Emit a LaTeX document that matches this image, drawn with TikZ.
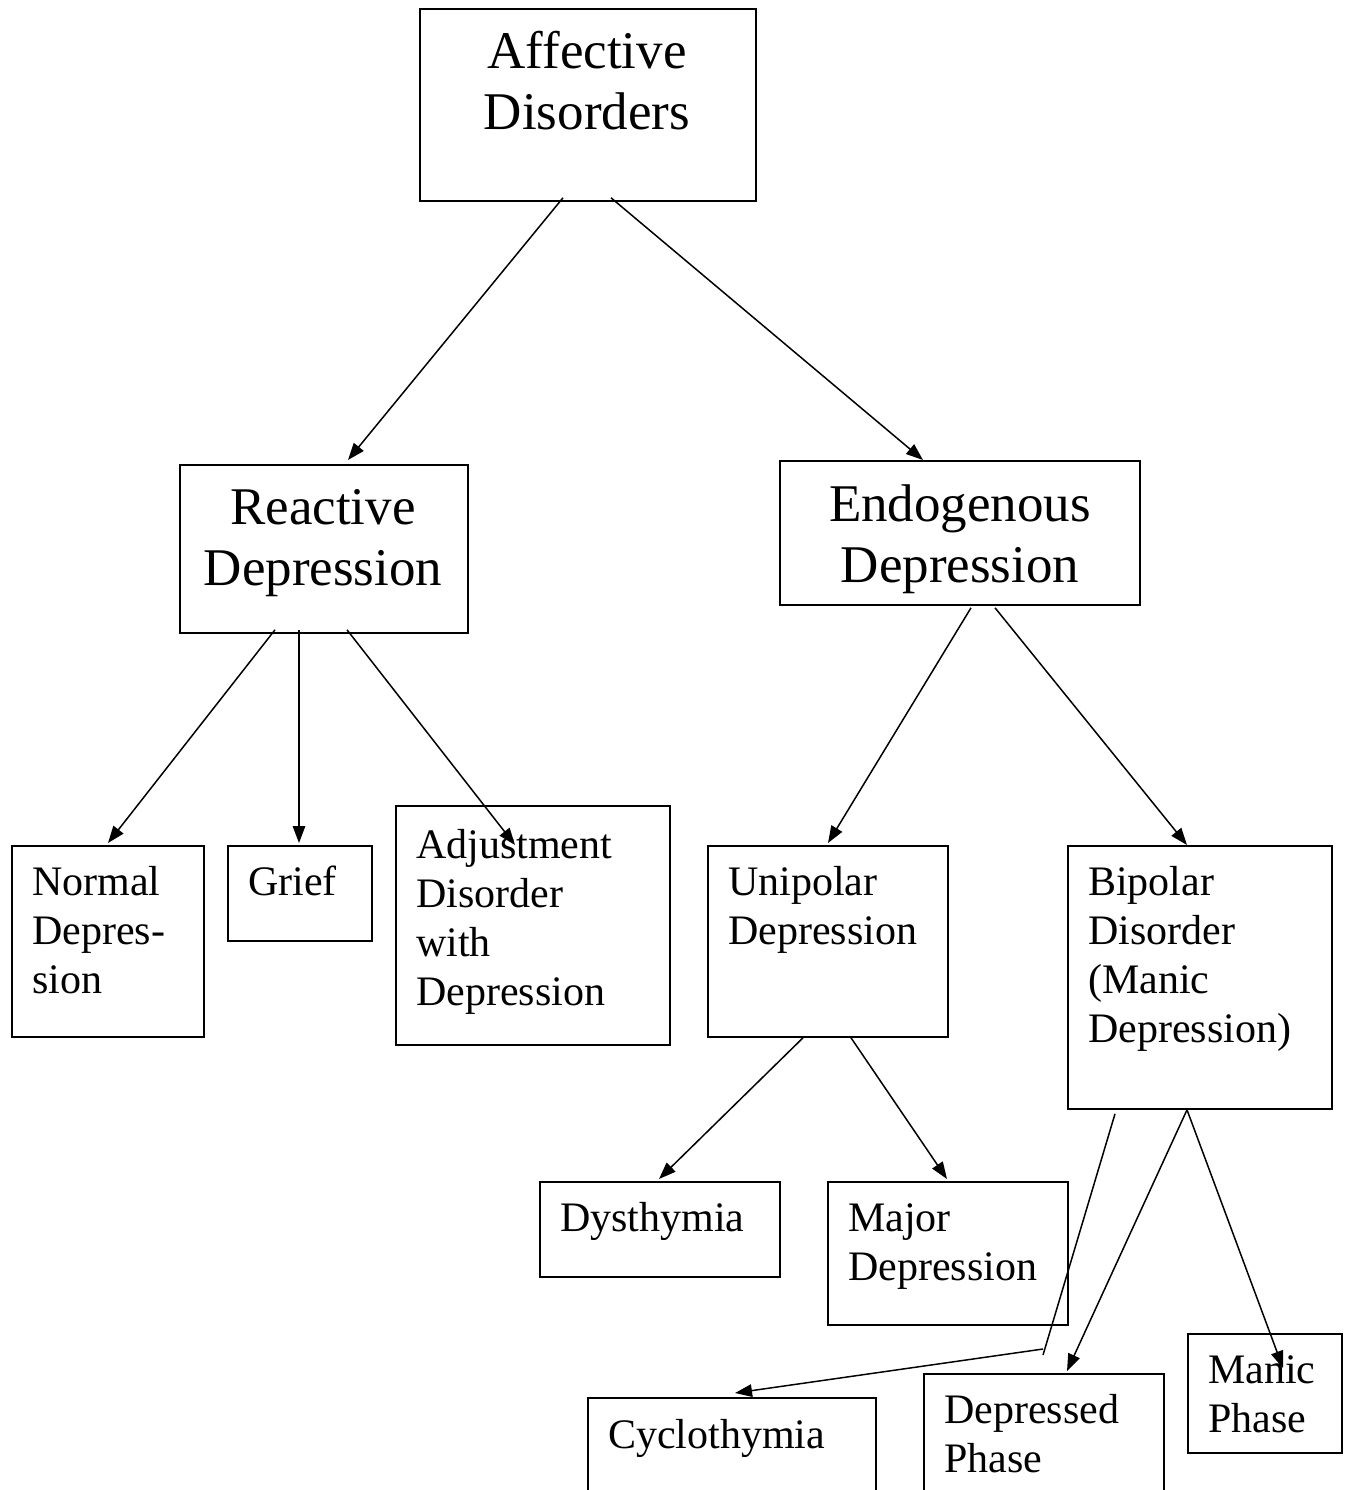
\documentclass[tikz,border=0pt]{standalone}
\usepackage{fontspec}
\setmainfont{Liberation Serif}
\usetikzlibrary{arrows.meta,calc}
\tikzset{
  box/.style={draw, line width=1.8pt, inner sep=0pt, anchor=north west},
  biglbl/.style={inner sep=0pt, anchor=north, align=center, font=\fontsize{53}{61}\selectfont},
  smlbl/.style={inner sep=0pt, anchor=north west, align=left, font=\fontsize{42}{49}\selectfont},
  arr/.style={-{Triangle[length=17pt,width=12.5pt]}, line width=1.5pt},
  plain/.style={line width=1.5pt}
}
\newcommand{\bigtop}{\rule{0pt}{46pt}}
\newcommand{\smtop}{\rule{0pt}{36pt}}
\begin{document}
\begin{tikzpicture}[x=1pt,y=-1pt]
\useasboundingbox (0,0) rectangle (1348,1490);
% boxes
\node[box, minimum width=336pt, minimum height=192pt] (aff) at (419,8) {};
\node[box, minimum width=288pt, minimum height=168pt] (rea) at (179,464) {};
\node[box, minimum width=360pt, minimum height=144pt] (endo) at (779,460) {};
\node[box, minimum width=192pt, minimum height=191pt] (norm) at (11,845) {};
\node[box, minimum width=144pt, minimum height=95pt] (grief) at (227,845) {};
\node[box, minimum width=274pt, minimum height=239pt] (adj) at (395,805) {};
\node[box, minimum width=240pt, minimum height=191pt] (uni) at (707,845) {};
\node[box, minimum width=264pt, minimum height=263pt] (bip) at (1067,845) {};
\node[box, minimum width=240pt, minimum height=95pt] (dys) at (539,1181) {};
\node[box, minimum width=240pt, minimum height=143pt] (maj) at (827,1181) {};
\node[box, minimum width=288pt, minimum height=120pt] (cyc) at (587,1397) {};
\node[box, minimum width=240pt, minimum height=130pt] (dep) at (923,1373) {};
\node[box, minimum width=154pt, minimum height=119pt] (man) at (1187,1333) {};
% labels
\node[biglbl] (afft) at (587,22) {\bigtop Affective\\Disorders};
\node[biglbl] (reat) at (323,478) {\bigtop Reactive\\Depression};
\node[biglbl] (endot) at (960,475) {\bigtop Endogenous\\Depression};
\node[smlbl] (normt) at (32,859) {\smtop Normal\\Depres-\\sion};
\node[smlbl] (grieft) at (248,859) {\smtop Grief};
\node[smlbl] (adjt) at (416,822) {\smtop Adjustment\\Disorder\\with\\Depression};
\node[smlbl] (unit) at (728,859) {\smtop Unipolar\\Depression};
\node[smlbl] (bipt) at (1088,859) {\smtop Bipolar\\Disorder\\(Manic\\Depression)};
\node[smlbl] (dyst) at (560,1195) {\smtop Dysthymia};
\node[smlbl] (majt) at (848,1195) {\smtop Major\\Depression};
\node[smlbl] (cyct) at (608,1412) {\smtop Cyclothymia};
\node[smlbl] (dept) at (944,1387) {\smtop Depressed\\Phase};
\node[smlbl] (mant) at (1208,1347) {\smtop Manic\\Phase};
% connectors
\draw[arr] ($(aff.south west)+(144,-4)$) -- ($(rea.north west)+(169,-4)$);
\draw[arr] ($(aff.south west)+(192,-4)$) -- ($(endo.north west)+(144,0)$);
\draw[arr] ($(rea.south west)+(96,-4)$) -- ($(norm.north west)+(97,-2)$);
\draw[arr] ($(rea.south west)+(120,-4)$) -- ($(grief.north west)+(72,-2)$);
\draw[arr] ($(rea.south west)+(168,-4)$) -- ($(adj.north west)+(120,40)$);
\draw[arr] ($(endo.south west)+(192,2)$) -- ($(uni.north west)+(121,-2)$);
\draw[arr] ($(endo.south west)+(216,2)$) -- ($(bip.north west)+(120,0)$);
\draw[arr] ($(uni.south west)+(96,0)$) -- ($(dys.north west)+(120,-2)$);
\draw[arr] ($(uni.south west)+(144,0)$) -- ($(maj.north west)+(120,-2)$);
\coordinate (bend) at ($(cyc.north west)+(456,-48)$);
\coordinate (bendend) at ($(cyc.north west)+(456,-42)$);
\draw[plain] ($(bip.south west)+(48,4)$) -- (bendend);
\draw[arr] (bend) -- ($(cyc.north west)+(148,-4)$);
\draw[arr] ($(bip.south west)+(120,0)$) -- ($(dep.north west)+(144,-2)$);
\draw[arr] ($(bip.south west)+(120,0)$) -- ($(man.north west)+(96,35)$);
\end{tikzpicture}
\end{document}
